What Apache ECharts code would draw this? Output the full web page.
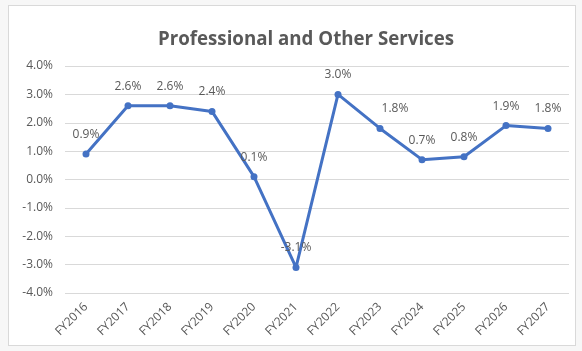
<!DOCTYPE html>
<html>
<head>
<meta charset="utf-8">
<script src="https://cdn.jsdelivr.net/npm/echarts@6/dist/echarts.min.js"></script>
<style>
  html, body { margin: 0; padding: 0; background: #f7f7f7; }
  #wrap { position: absolute; left: 8px; top: 5px; width: 566px; height: 339px;
          background: #ffffff; border: 1px solid #d9d9d9; }
  #chart { width: 566px; height: 339px; }
</style>
</head>
<body>
<div id="wrap"><div id="chart"></div></div>
<script>
// Fiscal years on the category axis
const categories = ['FY2016', 'FY2017', 'FY2018', 'FY2019', 'FY2020', 'FY2021',
                    'FY2022', 'FY2023', 'FY2024', 'FY2025', 'FY2026', 'FY2027'];
// Annual growth rate, percent
const growth = [0.9, 2.6, 2.6, 2.4, 0.1, -3.1, 3.0, 1.8, 0.7, 0.8, 1.9, 1.8];
// Value axis bounds and step, percent
const yMin = -4, yMax = 4, yStep = 1;

const chart = echarts.init(document.getElementById('chart'), null, { renderer: 'canvas' });
const font = '"Open Sans", "Noto Sans", sans-serif';

chart.setOption({
  animation: false,
  title: {
    text: 'Professional and Other Services',
    left: 144,
    top: 19,
    textStyle: { fontFamily: font, fontSize: 18.7, fontWeight: 'bold', color: '#595959' }
  },
  grid: { left: 56, right: 6, top: 60, bottom: 52 },
  xAxis: {
    type: 'category',
    data: categories,
    boundaryGap: true,
    axisLine: { show: false },
    axisTick: { show: false },
    axisLabel: { rotate: 45, fontFamily: font, fontSize: 12, color: '#595959', margin: 12 }
  },
  yAxis: {
    type: 'value',
    min: yMin, max: yMax, interval: yStep,
    axisLine: { show: false },
    axisTick: { show: false },
    splitLine: { lineStyle: { color: '#d9d9d9', width: 1 } },
    axisLabel: {
      fontFamily: font, fontSize: 12, color: '#595959', margin: 12,
      formatter: v => v.toFixed(1) + '%'
    }
  },
  series: [{
    type: 'line',
    data: growth,
    symbol: 'circle',
    symbolSize: 7,
    lineStyle: { color: '#4472c4', width: 3 },
    itemStyle: { color: '#4472c4' },
    label: {
      show: true,
      position: 'top',
      distance: 10,
      fontFamily: font, fontSize: 12, color: '#595959',
      formatter: p => p.value.toFixed(1) + '%'
    },
    labelLayout: p => {
      // nudge the FY2023 label clear of the descending segment
      if (p.dataIndex === 7) return { dx: 15 };
      return {};
    }
  }]
});
</script>
</body>
</html>
